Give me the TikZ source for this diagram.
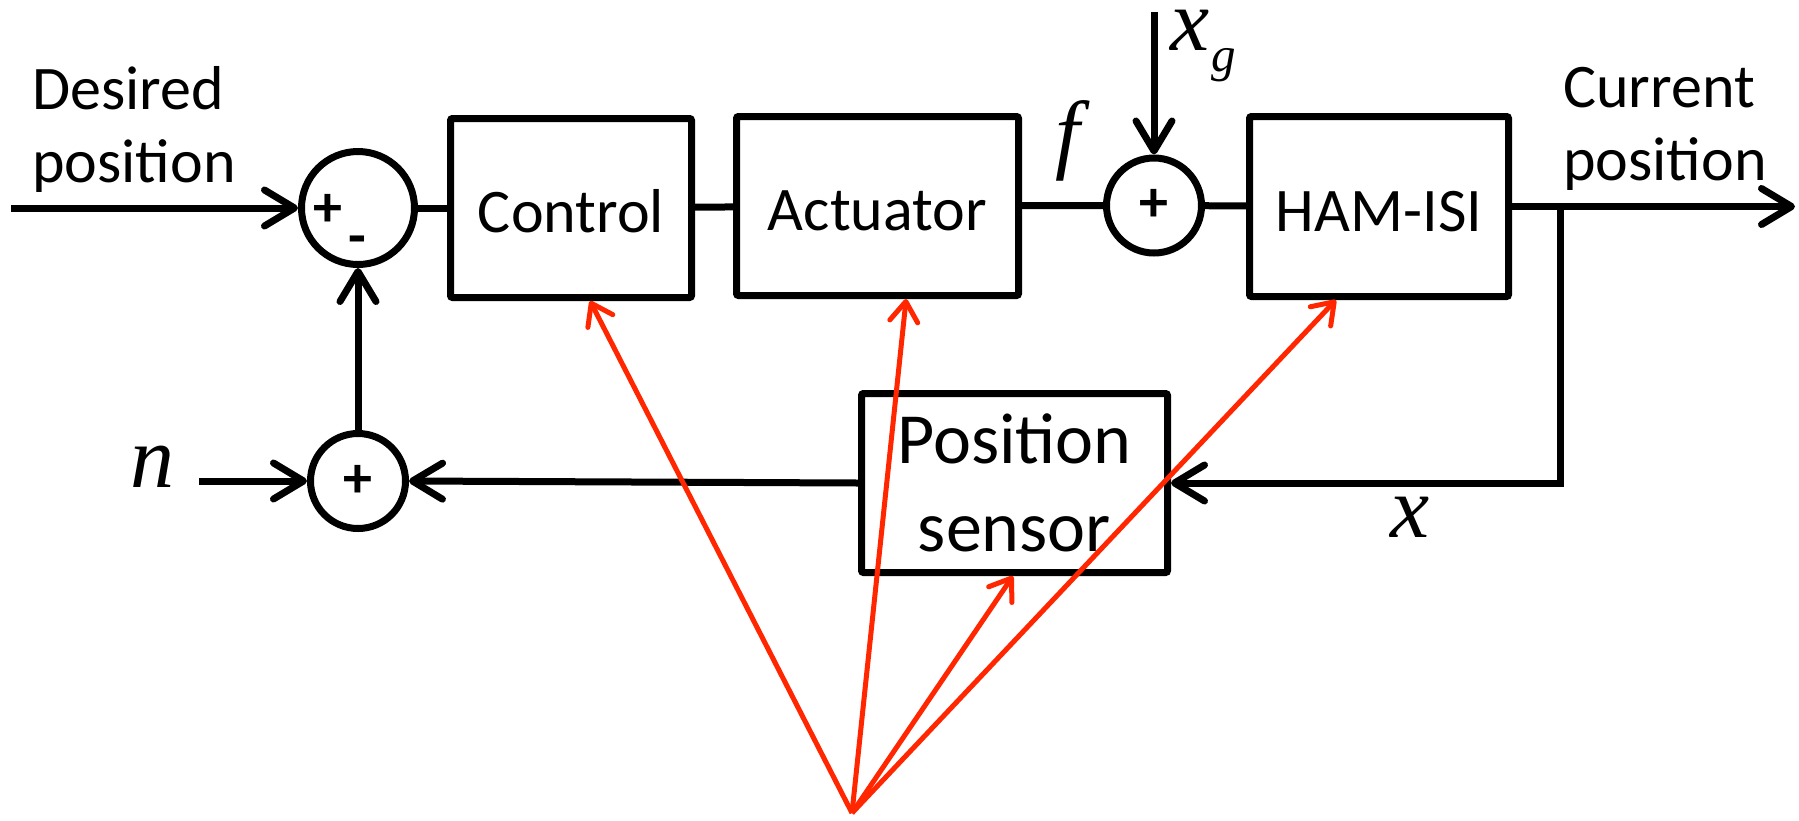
\documentclass[tikz,border=0pt]{standalone}
\usepackage{fontspec}
\setmainfont{Carlito}
\newfontfamily\tms{Liberation Serif}
\usetikzlibrary{arrows.meta,calc}
\definecolor{redarrow}{RGB}{255,38,0}
\begin{document}
\begin{tikzpicture}[x=1pt,y=-1pt,
  blkbase/.style={draw, line width=7pt, rounded corners=2pt, minimum width=#1,
    minimum height=179pt, inner sep=0pt},
  blk/.style={blkbase=#1, text height=49pt, text depth=0pt, font=\fontsize{62}{76}\selectfont},
  sumnode/.style={draw, circle, line width=7pt, minimum size=#1, inner sep=0pt,
    font=\bfseries\fontsize{58}{58}\selectfont},
  pm/.style={inner sep=0pt, font=\bfseries\fontsize{58}{58}\selectfont},
  lbl/.style={inner sep=0pt, align=left, font=\fontsize{62}{73}\selectfont},
  mth/.style={inner sep=0pt, font=\fontsize{88}{88}\selectfont\tms\itshape},
  conn/.style={line width=7pt},
  arr/.style={-{Straight Barb[length=30pt,width=36pt,round]}},
  redarr/.style={draw=redarrow, line width=5pt, -{Straight Barb[length=20pt,width=28pt,round]}}
]
\useasboundingbox (0,0) rectangle (1799,820);

% blocks
\node[blk=241pt] (ctrl) at (571,208) {Control};
\node[blk=282pt] (act) at (877.5,206) {Actuator};
\node[blk=259pt, minimum height=180pt] (ham) at (1379,206.5) {HAM-ISI};
\node[blkbase=306pt, align=center, font=\fontsize{72}{88}\selectfont] (sens) at (1014.5,483) {Position\\sensor};

% summing junctions
\node[sumnode=113pt] (s1) at (358,208) {};
\node[sumnode=95pt] (s2) at (1154,205.5) {+};
\node[sumnode=95pt] (s3) at (358,481) {+};
\node[pm] (s1p) at (328,210) {+};
\node[pm] (s1m) at (357,246) {-};

% labels
\node[lbl, anchor=base west] (des) at (32,182) {Desired\\position};
\node[lbl, anchor=base west] (cur) at (1563,180) {Current\\position};
\node[mth, anchor=base] (flab) at (1068,162) {f};
\node[mth, anchor=base] (nlab) at (152,487) {n};
\node[mth, anchor=base] (xlab) at (1410,537) {x};
\node[mth, anchor=base west] (xglab) at (1170,50) {x\kern2pt\raisebox{-21pt}{\fontsize{49}{49}\selectfont g}};

% free ends
\coordinate (inA) at (11,208);
\coordinate (xgtop) at (1154,12);
\coordinate (outE) at (1795,206.5);
\coordinate (junc) at (1560,206.5);
\coordinate (nA) at (199,481);
\coordinate (apex) at (852,813);

% connectors
\draw[conn, arr] (inA) -- (s1);
\draw[conn] (s1) -- (ctrl);
\draw[conn] (ctrl) -- (act);
\draw[conn] (act) -- (s2);
\draw[conn, arr] (xgtop) -- (s2.north);
\draw[conn] (s2) -- (ham);
\draw[conn, arr] (ham.east) -- (outE);
\draw[conn, arr] (junc) |- (sens.east);
\draw[conn, arr] (sens.west) -- (s3.east);
\draw[conn, arr] (nA) -- (s3.west);
\draw[conn, arr] (s3.north) -- (s1.south);

% red pointers
\draw[redarr] (apex) -- ($(ctrl.south west)!0.577!(ctrl.south east)$);
\draw[redarr] (apex) -- ($(act.south west)!0.599!(act.south east)$);
\draw[redarr] (apex) -- ($(ham.south west)!0.338!(ham.south east)$);
\draw[redarr] (apex) -- ($(sens.south west)!0.495!(sens.south east)$);
\end{tikzpicture}
\end{document}
